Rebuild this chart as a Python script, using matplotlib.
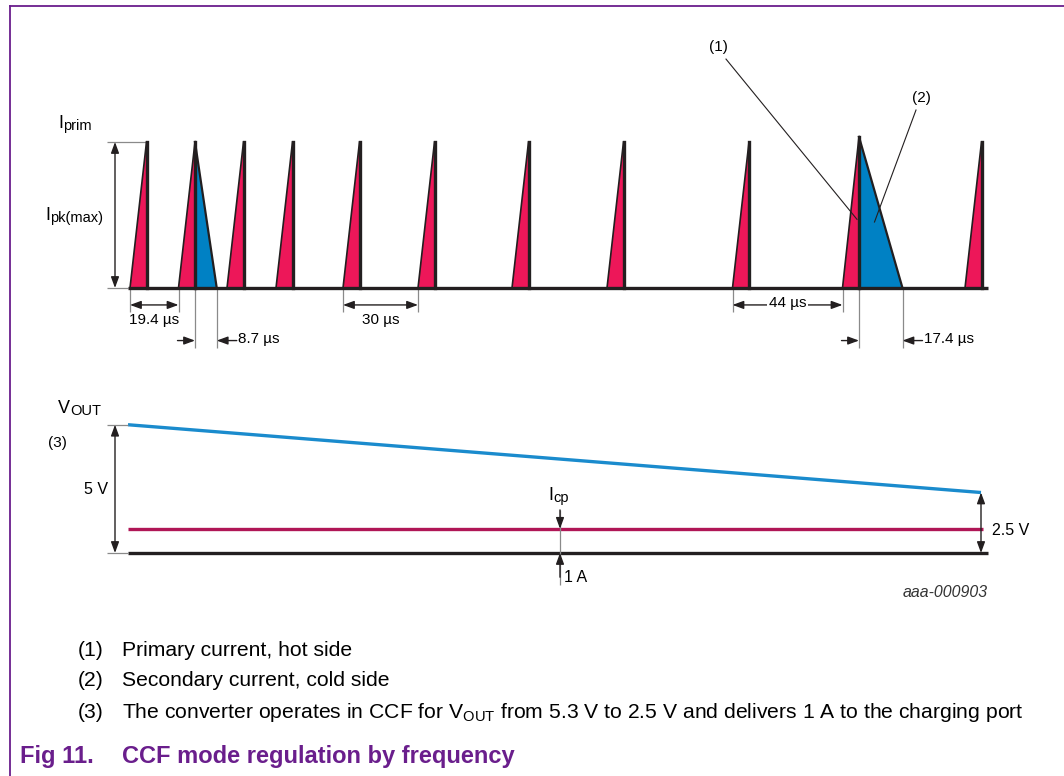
import matplotlib
matplotlib.use("Agg")
import matplotlib.pyplot as plt
from matplotlib.patches import ArrowStyle
from matplotlib.lines import Line2D

plt.rcParams["font.family"] = ["Liberation Sans", "DejaVu Sans"]
plt.rcParams["mathtext.fontset"] = "custom"
plt.rcParams["mathtext.rm"] = "Liberation Sans"
plt.rcParams["mathtext.it"] = "Liberation Sans:italic"
plt.rcParams["mathtext.bf"] = "Liberation Sans:bold"

# primary current pulses, time in us from the first switching edge
pulse_start_us = [0.0, 19.4, 38.8, 58.4, 85.2, 115.2, 152.8, 190.8, 241.0, 285.0, 334.0]
pulse_rise_us = 6.6
pulse_peak = [1.0, 1.0, 1.0, 1.0, 1.0, 1.0, 1.0, 1.0, 1.0, 1.035, 1.0]

# secondary (cold side) pulses following some primary pulses
sec_pulse_idx = [1, 9]
sec_width_us = [8.7, 17.4]

# labelled gaps between primary pulse starts
gap_from_idx = [0, 4, 8]
gap_us = [19.4, 30, 44]

# output side: VOUT ramp and charging port current
t_span_us = [-0.8, 340.4]
vout_v = [5.3, 2.5]
icp_a = 1.0
icp_t_us = 172.0

RED = "#ED1759"
BLUE = "#0081C4"
VLINE = "#1A8BCD"
ILINE = "#B01656"
INK = "#231F20"
GREY = "#8A8A8A"
PURPLE = "#6A1E8C"

W, H = 1064, 776
fig = plt.figure(figsize=(W / 100, H / 100), dpi=100)

# both panels share the full figure; limits set the scale (2.5 px per us)
x_px0, x_scale = 130, 2.5
xlim = (-x_px0 / x_scale, (W - x_px0) / x_scale)

ax = fig.add_axes([0, 0, 1, 1])
ax.set_xlim(*xlim)
ax.set_ylim((288 - H) / 146, 288 / 146)
ax.axis("off")

bx = fig.add_axes([0, 0, 1, 1])
bx.set_xlim(*xlim)
bx.set_ylim((553 - H) / 24.2, 553 / 24.2)
bx.axis("off")
bx.patch.set_alpha(0)

head = ArrowStyle("<|-|>", head_length=0.6, head_width=0.22)
one_head = ArrowStyle("-|>", head_length=0.6, head_width=0.22)
FS = 11


def dim_arrow(a, p0, p1, style=head):
    a.annotate("", xy=p1, xytext=p0,
               arrowprops=dict(arrowstyle=style, mutation_scale=11, lw=1.0,
                               color=INK, shrinkA=0, shrinkB=0),
               annotation_clip=False)


def ext_line(a, xs, ys):
    a.plot(xs, ys, color=GREY, lw=0.9, solid_capstyle="butt", clip_on=False)


def sub_label(a, x, y, main, sub, size=13, sub_size=10.5):
    t = a.text(x, y, main, fontsize=size, ha="left", va="baseline")
    a.annotate(sub, xy=(1, 0), xycoords=t, xytext=(0.3, 1.2),
               textcoords="offset points", fontsize=sub_size, ha="left", va="baseline")


# ---- primary / secondary current pulses ----
for i, (t0, pk) in enumerate(zip(pulse_start_us, pulse_peak)):
    tp = t0 + pulse_rise_us
    ax.fill([t0, tp, tp], [0, pk, 0], color=RED, lw=0, zorder=2)
    if i in sec_pulse_idx:
        w = sec_width_us[sec_pulse_idx.index(i)]
        ax.fill([tp, tp, tp + w], [0, pk, 0], color=BLUE, lw=0, zorder=2)
        ax.plot([tp, tp + w], [pk, 0], color=INK, lw=1.6, zorder=3)
    ax.plot([t0, tp], [0, pk], color=INK, lw=1.2, zorder=3)
    ax.plot([tp, tp], [0, pk], color=INK, lw=2.4, zorder=3)

ax.plot([t_span_us[0], 343.2], [0, 0], color=INK, lw=2.4, zorder=4,
        solid_capstyle="butt")

# Ipk(max) dimension
ext_line(ax, [-9.2, pulse_rise_us], [1.0, 1.0])
ext_line(ax, [-9.2, t_span_us[0]], [0, 0])
dim_arrow(ax, (-6.0, 0), (-6.0, 1.0))
sub_label(ax, -28.8, 1.096, "I", "prim")
sub_label(ax, -34.0, 0.466, "I", "pk(max)")

# gaps between pulse starts
for idx, g in zip(gap_from_idx, gap_us):
    ta = pulse_start_us[idx]
    tb = ta + g
    ext_line(ax, [ta, ta], [0, -0.165])
    ext_line(ax, [tb, tb], [0, -0.165])
    dim_arrow(ax, (ta, -0.116), (tb, -0.116))
    if g >= 40:
        ax.text((ta + tb) / 2, -0.105, f"{g:g} µs", fontsize=FS, ha="center", va="center",
                bbox=dict(fc="white", ec="none", pad=1.5), zorder=5)
    else:
        ax.text((ta + tb) / 2, -0.222, f"{g:g} µs", fontsize=FS, ha="center", va="center")

# secondary pulse widths, arrows pointing inward
for i, w in zip(sec_pulse_idx, sec_width_us):
    ta = pulse_start_us[i] + pulse_rise_us
    tb = ta + w
    ext_line(ax, [ta, ta], [0, -0.41])
    ext_line(ax, [tb, tb], [0, -0.41])
    dim_arrow(ax, (ta - 7.0, -0.36), (ta, -0.36), one_head)
    dim_arrow(ax, (tb + 8.0, -0.36), (tb, -0.36), one_head)
    ax.text(tb + 8.4, -0.35, f"{w:g} µs", fontsize=FS, ha="left", va="center")

# callouts (1) and (2)
t10 = pulse_start_us[9] + pulse_rise_us
ax.text(235.2, 1.65, "(1)", fontsize=FS, ha="center", va="center")
ax.plot([238.4, t10 - 0.8], [1.568, 0.47], color=INK, lw=0.8, zorder=5)
ax.text(316.4, 1.30, "(2)", fontsize=FS, ha="center", va="center")
ax.plot([314.4, t10 + 6.2], [1.219, 0.452], color=INK, lw=0.8, zorder=5)

# ---- output voltage and current ----
bx.plot(t_span_us, vout_v, color=VLINE, lw=2.4, solid_capstyle="butt")
bx.plot([t_span_us[0], 341.2], [icp_a, icp_a], color=ILINE, lw=2.4, solid_capstyle="butt")
bx.plot([t_span_us[0], 343.2], [0, 0], color=INK, lw=2.4, solid_capstyle="butt")

ext_line(bx, [-9.2, t_span_us[0]], [vout_v[0], vout_v[0]])
ext_line(bx, [-9.2, t_span_us[0]], [0, 0])
dim_arrow(bx, (-6.0, 0), (-6.0, vout_v[0]))
sub_label(bx, -28.8, 5.79, "V", "OUT")
bx.text(-32.8, 4.55, "(3)", fontsize=FS, ha="left", va="center")
bx.text(-8.8, 2.64, f"{vout_v[0]:.0f} V", fontsize=FS + 0.5, ha="right", va="center")

dim_arrow(bx, (t_span_us[1], 0), (t_span_us[1], vout_v[1]))
bx.text(t_span_us[1] + 4.4, 0.91, f"{vout_v[1]:g} V", fontsize=FS + 0.5, ha="left", va="center")

ext_line(bx, [icp_t_us, icp_t_us], [1.78, -1.32])
dim_arrow(bx, (icp_t_us, 1.78), (icp_t_us, icp_a), one_head)
dim_arrow(bx, (icp_t_us, -1.0), (icp_t_us, 0), one_head)
sub_label(bx, icp_t_us - 4.8, 2.19, "I", "cp")
bx.text(icp_t_us + 1.6, -1.03, f"{icp_a:.0f} A", fontsize=FS + 0.5, ha="left", va="center")

bx.text(343.2, -1.65, "aaa-000903", fontsize=11.4, style="italic", color="#333333",
        ha="right", va="center")

# ---- footnotes and caption ----
notes = [
    "Primary current, hot side",
    "Secondary current, cold side",
    r"The converter operates in CCF for V$_\mathregular{OUT}$ from 5.3 V to 2.5 V "
    "and delivers 1 A to the charging port",
]
for k, (note, y) in enumerate(zip(notes, [650, 681, 712])):
    fig.text(78 / W, 1 - y / H, f"({k + 1})", fontsize=15.2, va="center", ha="left")
    fig.text(122 / W, 1 - y / H, note, fontsize=15.2, va="center", ha="left")

fig.text(20 / W, 1 - 756 / H, "Fig 11.", fontsize=17, fontweight="bold",
         color=PURPLE, va="center", ha="left")
fig.text(122 / W, 1 - 756 / H, "CCF mode regulation by frequency", fontsize=17,
         fontweight="bold", color=PURPLE, va="center", ha="left")

# page frame, top and left edges
fig.add_artist(Line2D([10 / W, 1], [1 - 6 / H, 1 - 6 / H], color=PURPLE, lw=1.3))
fig.add_artist(Line2D([10 / W, 10 / W], [1 - 6 / H, 0], color=PURPLE, lw=1.3))

fig.savefig("out.png", dpi=100)
